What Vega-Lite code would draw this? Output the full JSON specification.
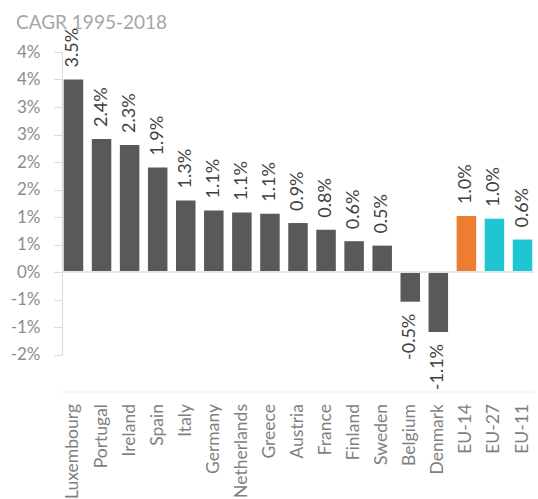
{
  "$schema": "https://vega.github.io/schema/vega-lite/v6.json",
  "width": 472,
  "height": 302.5,
  "autosize": "none",
  "padding": {"left": 62, "top": 52, "right": 4, "bottom": 144.5},
  "background": "white",
  "title": {"text": "CAGR 1995-2018", "anchor": "start", "frame": "group", "dx": -46, "offset": -5, "fontSize": 19, "font": "Lato", "fontWeight": "normal", "color": "#a6a6a6"},
  "config": {"view": {"stroke": null}, "font": "Lato",
    "locale": {"number": {"decimal": ".", "thousands": ",", "grouping": [3], "currency": ["$", ""], "minus": "-"}},
    "axisY": {"tickCount": 11, "labelOverlap": false, "title": null, "grid": false, "domainColor": "#d9d9d9", "tickColor": "#d9d9d9", "tickSize": 8, "labelPadding": 14, "labelFontSize": 17, "labelColor": "#8c8c8c", "labelFont": "Lato",
      "labelExpr": "(datum.value < 0 ? '-' : '') + round(abs(datum.value) * 100 + 1e-9) + '%'"}},
  "data": {"values": [
    {"region": "Luxembourg", "cagr": 0.035, "group": "Country"},
    {"region": "Portugal", "cagr": 0.0242, "group": "Country"},
    {"region": "Ireland", "cagr": 0.0231, "group": "Country"},
    {"region": "Spain", "cagr": 0.019, "group": "Country"},
    {"region": "Italy", "cagr": 0.013, "group": "Country"},
    {"region": "Germany", "cagr": 0.0112, "group": "Country"},
    {"region": "Netherlands", "cagr": 0.0108, "group": "Country"},
    {"region": "Greece", "cagr": 0.0106, "group": "Country"},
    {"region": "Austria", "cagr": 0.0089, "group": "Country"},
    {"region": "France", "cagr": 0.0077, "group": "Country"},
    {"region": "Finland", "cagr": 0.0056, "group": "Country"},
    {"region": "Sweden", "cagr": 0.0048, "group": "Country"},
    {"region": "Belgium", "cagr": -0.0054, "group": "Country"},
    {"region": "Denmark", "cagr": -0.0109, "group": "Country"},
    {"region": "EU-14", "cagr": 0.0102, "group": "EU-14"},
    {"region": "EU-27", "cagr": 0.0097, "group": "Other EU"},
    {"region": "EU-11", "cagr": 0.0059, "group": "Other EU"}
  ]},
  "layer": [
    {
      "mark": {"type": "bar"},
      "encoding": {
        "x": {"field": "region", "type": "nominal", "sort": null,
          "scale": {"paddingInner": 0.305, "paddingOuter": 0.062},
          "axis": {"orient": "bottom", "offset": 37, "domainColor": "#eeeeee", "ticks": false, "labelAngle": -90, "labelPadding": 12, "labelFontSize": 17.5, "labelColor": "#7f7f7f", "title": null, "labelOverlap": false, "labelLimit": 300, "labelFont": "Lato"}},
        "y": {"field": "cagr", "type": "quantitative",
          "scale": {"domain": [-0.015, 0.04], "nice": false}},
        "color": {"field": "group", "type": "nominal", "legend": null,
          "scale": {"domain": ["Country", "EU-14", "Other EU"], "range": ["#595959", "#ED7D31", "#1FC6D2"]}}
      }
    },
    {
      "mark": {"type": "rule", "color": "#e6e6e6", "strokeWidth": 1},
      "encoding": {"y": {"datum": 0, "type": "quantitative"}}
    },
    {
      "transform": [{"filter": "datum.cagr >= 0"}],
      "mark": {"type": "text", "angle": -90, "align": "left", "baseline": "middle", "dx": 12, "fontSize": 18, "color": "#404040", "font": "Lato"},
      "encoding": {
        "x": {"field": "region", "type": "nominal", "sort": null},
        "y": {"field": "cagr", "type": "quantitative"},
        "text": {"field": "cagr", "type": "quantitative", "format": ".1%"}
      }
    },
    {
      "transform": [{"filter": "datum.cagr < 0"}],
      "mark": {"type": "text", "angle": -90, "align": "right", "baseline": "middle", "dx": -12, "fontSize": 18, "color": "#404040", "font": "Lato"},
      "encoding": {
        "x": {"field": "region", "type": "nominal", "sort": null},
        "y": {"field": "cagr", "type": "quantitative"},
        "text": {"field": "cagr", "type": "quantitative", "format": ".1%"}
      }
    }
  ]
}
